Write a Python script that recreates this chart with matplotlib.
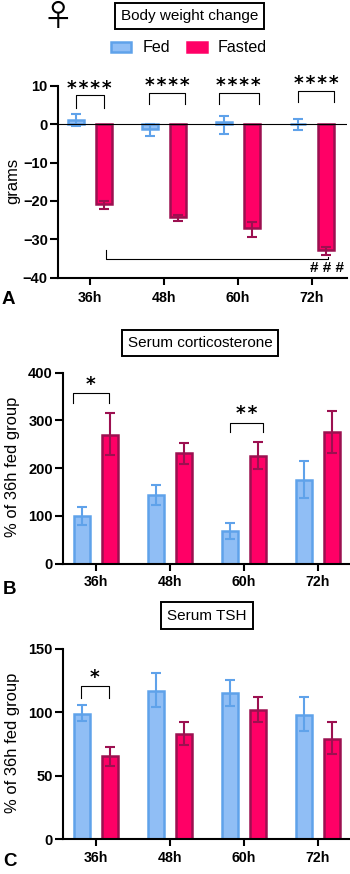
import matplotlib
matplotlib.use("Agg")
import numpy as np
import matplotlib.pyplot as plt
from matplotlib.patches import Patch

plt.rcParams['font.family'] = ['Liberation Sans', 'DejaVu Sans']

W, H = 350, 874

times = ["36h", "48h", "60h", "72h"]

# body weight change
bw_fed = [1, -1.2, 0.5, 0]
bw_fed_low = [-0.5, -3, -2.6, -1.5]
bw_fed_high = [2.7, 0, 2.0, 1.4]
bw_fast = [-20.8, -24.2, -27, -32.8]
bw_fast_low = [-22, -25.3, -29.3, -34]
bw_fast_high = [-20, -23.6, -25.4, -32]

# corticosterone
cort_fed = [99, 143, 68, 176]
cort_fed_low = [82, 123, 52, 137]
cort_fed_high = [118, 164, 85, 216]
cort_fast = [270, 231, 226, 275]
cort_fast_low = [227, 208, 198, 232]
cort_fast_high = [315, 253, 255, 319]

# TSH
tsh_fed = [99, 117, 115, 98]
tsh_fed_low = [93, 104, 105, 85]
tsh_fed_high = [106, 131, 125, 112]
tsh_fast = [65.5, 82.5, 102, 79]
tsh_fast_low = [58, 74, 92, 67]
tsh_fast_high = [73, 92, 112, 92]

FED_FILL, FED_EDGE = "#90bef5", "#5fa2ea"
FAST_FILL, FAST_EDGE = "#ff0066", "#9c1050"


def make_axes(left, right, top, bottom):
    return plt.gcf().add_axes([left / W, 1 - bottom / H, (right - left) / W, (bottom - top) / H])


def draw_bars(ax, fed, fed_low, fed_high, fast, fast_low, fast_high):
    x = np.arange(4)
    off = 0.189
    for xs, v, lo, hi, fill, edge in [(x - off, fed, fed_low, fed_high, FED_FILL, FED_EDGE),
                                      (x + off, fast, fast_low, fast_high, FAST_FILL, FAST_EDGE)]:
        v = np.array(v)
        ax.bar(xs, v, width=0.215, color=fill, edgecolor=edge, linewidth=1.8, zorder=2)
        ax.errorbar(xs, v, yerr=[v - np.array(lo), np.array(hi) - v], fmt="none", ecolor=edge,
                    elinewidth=1.5, capsize=3.4, capthick=1.5, zorder=3)


def style_axes(ax, xlim, ylim, yticks, ylabel, label_y, xpad=3.5):
    ax.set_xlim(xlim)
    ax.set_ylim(ylim)
    ax.set_xticks(range(4))
    ax.set_xticklabels(times, fontweight="bold", fontsize=10.2)
    ax.set_yticks(yticks)
    ax.tick_params(axis="y", length=5.8, width=1.5, labelsize=10.5, pad=1.5)
    ax.tick_params(axis="x", length=4.8, width=1.5, pad=xpad)
    for t in ax.get_yticklabels():
        t.set_fontweight("bold")
    ax.spines["top"].set_visible(False)
    ax.spines["right"].set_visible(False)
    ax.spines["left"].set_linewidth(1.5)
    ax.spines["bottom"].set_linewidth(1.5)
    plt.gcf().text(13 / W, 1 - label_y / H, ylabel, rotation=90, ha="center", va="center", fontsize=11.9)


def bracket(ax, x0, x1, top, drop0, drop1=None):
    drop1 = drop0 if drop1 is None else drop1
    ax.plot([x0, x0, x1, x1], [drop0, top, top, drop1], color="black", lw=0.8, clip_on=False, zorder=4)


def stars(ax, x, y, n):
    # hair spaces keep the bold asterisks apart
    ax.text(x, y, "\u200a".join("*" * n), ha="center", va="center", fontsize=13.5, family="DejaVu Sans",
            fontweight="bold", clip_on=False)


def boxed_title(x, y, s):
    plt.gcf().text(x / W, 1 - y / H, s, ha="center", va="center", fontsize=11,
                   bbox=dict(boxstyle="square,pad=0.4", fc="white", ec="black", lw=1.4))


fig = plt.figure(figsize=(W / 100, H / 100), dpi=100, facecolor="white")

# A
ax_a = make_axes(58, 347, 85.7, 277.7)
draw_bars(ax_a, bw_fed, bw_fed_low, bw_fed_high, bw_fast, bw_fast_low, bw_fast_high)
style_axes(ax_a, (-0.432, 3.473), (-40, 10), [-40, -30, -20, -10, 0, 10], "grams", 181, xpad=5)
ax_a.axhline(0, color="black", lw=0.8, zorder=4)
bracket(ax_a, -0.19, 0.19, 7.55, 4.1)
bracket(ax_a, 0.80, 1.29, 8.07, 5.3)
bracket(ax_a, 1.75, 2.29, 8.07, 5.3)
bracket(ax_a, 2.81, 3.30, 8.6, 5.8)
bracket(ax_a, 0.21, 3.22, -35.2, -32.7, -34.5)
stars(ax_a, -0.01, 9.4, 4)
stars(ax_a, 1.04, 10.1, 4)
stars(ax_a, 2.01, 10.1, 4)
stars(ax_a, 3.06, 10.6, 4)
ax_a.text(3.2, -37.4, "# # #", ha="center", va="center", fontsize=11, fontweight="bold")

# B
ax_b = make_axes(63, 350, 372.7, 563.7)
draw_bars(ax_b, cort_fed, cort_fed_low, cort_fed_high, cort_fast, cort_fast_low, cort_fast_high)
style_axes(ax_b, (-0.442, 3.437), (0, 400), [0, 100, 200, 300, 400], "% of 36h fed group", 467)
bracket(ax_b, -0.31, 0.176, 357, 336)
bracket(ax_b, 1.81, 2.265, 295, 276)
stars(ax_b, -0.07, 375, 1)
stars(ax_b, 2.04, 314, 2)

# C
ax_c = make_axes(63, 350, 648.7, 839.3)
draw_bars(ax_c, tsh_fed, tsh_fed_low, tsh_fed_high, tsh_fast, tsh_fast_low, tsh_fast_high)
style_axes(ax_c, (-0.442, 3.437), (0, 150), [0, 50, 100, 150], "% of 36h fed group", 743)
bracket(ax_c, -0.2, 0.184, 121, 111)
stars(ax_c, -0.01, 127, 1)

# titles, legend, letters
boxed_title(189.5, 16, "Body weight change")
boxed_title(200, 343, "Serum corticosterone")
boxed_title(207, 615.5, "Serum TSH")

handles = [Patch(facecolor=FED_FILL, edgecolor=FED_EDGE, linewidth=1.8, label="Fed"),
           Patch(facecolor=FAST_FILL, edgecolor=FAST_FILL, linewidth=1.8, label="Fasted")]
fig.legend(handles=handles, ncol=2, frameon=False, fontsize=11.6, loc="center",
           bbox_to_anchor=(189 / W, 1 - 48 / H), handlelength=1.25, handleheight=0.55,
           handletextpad=0.7, columnspacing=1.05)

fig.text(58 / W, 1 - 18 / H, "\u2640", family="Noto Sans CJK JP", fontsize=22, ha="center", va="center")
fig.text(2 / W, 1 - 299 / H, "A", fontweight="bold", fontsize=13.5, ha="left", va="center")
fig.text(3 / W, 1 - 589 / H, "B", fontweight="bold", fontsize=13.5, ha="left", va="center")
fig.text(3 / W, 1 - 861 / H, "C", fontweight="bold", fontsize=13.5, ha="left", va="center")

fig.savefig("out.png", dpi=100)
